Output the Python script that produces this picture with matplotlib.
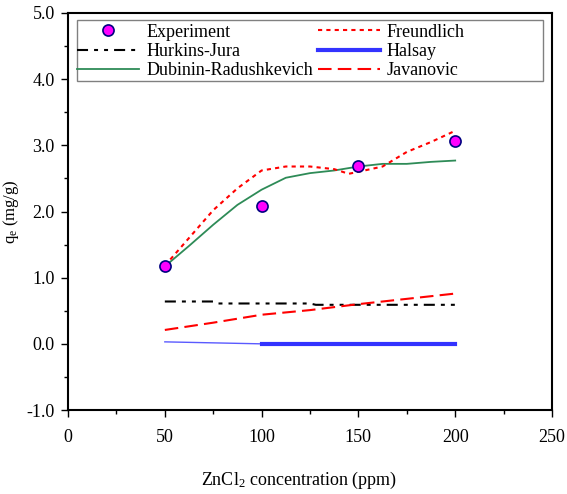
import matplotlib
matplotlib.use("Agg")
import matplotlib.pyplot as plt
from matplotlib.patches import Rectangle
from matplotlib.ticker import MultipleLocator, FormatStrFormatter

plt.rcParams['font.family'] = ['Liberation Serif', 'DejaVu Serif']
plt.rcParams['mathtext.fontset'] = 'custom'
plt.rcParams['mathtext.rm'] = 'Liberation Serif'
plt.rcParams['mathtext.it'] = 'Liberation Serif:italic'
plt.rcParams['mathtext.default'] = 'regular'
plt.rcParams['axes.unicode_minus'] = False

# experimental points
exp_x = [50, 100, 150, 200]
exp_y = [1.18, 2.08, 2.69, 3.06]

# model curves
fr_x = [50, 62.5, 75, 87.5, 100, 112.5, 125, 137.5, 145, 150, 162.5, 175, 187.5, 200]
fr_y = [1.18, 1.60, 2.02, 2.35, 2.62, 2.68, 2.68, 2.64, 2.57, 2.60, 2.68, 2.90, 3.05, 3.22]

dr_x = [50, 62.5, 75, 87.5, 100, 112.5, 125, 137.5, 150, 162.5, 175, 187.5, 200]
dr_y = [1.17, 1.48, 1.80, 2.10, 2.33, 2.51, 2.58, 2.62, 2.68, 2.72, 2.72, 2.75, 2.77]

hj_x = [50, 75, 77, 125, 128, 200]
hj_y = [0.64, 0.64, 0.61, 0.61, 0.59, 0.59]

ha_x = [50, 100]
ha_y = [0.03, 0.0]
ha2_x = [100, 200]
ha2_y = [0.0, 0.0]

jv_x = [50, 75, 100, 125, 150, 175, 200]
jv_y = [0.21, 0.32, 0.44, 0.51, 0.60, 0.68, 0.76]

fig = plt.figure(figsize=(5.67, 4.94), dpi=100)
ax = fig.add_axes([0.12, 0.17, 0.8535, 0.8037])

ax.plot(exp_x, exp_y, 'o', color='#ff00ff', markeredgecolor='#000080',
        markeredgewidth=1.2, markersize=8, label='Experiment', zorder=5)
ax.plot(hj_x, hj_y, color='black', lw=1.5, dashes=(5.3, 2.9, 1.9, 2.9, 1.9, 2.9),
        label='Hurkins-Jura')
ax.plot(dr_x, dr_y, color='#2e8b57', lw=1.3, label='Dubinin-Radushkevich')
ax.plot(fr_x, fr_y, color='red', lw=1.5, dashes=(2, 2), label='Freundlich')
ax.plot(ha_x, ha_y, color='#5a5aff', lw=1.0)
ax.plot(ha2_x, ha2_y, color='#3333ff', lw=3.0, label='Halsay')
ax.plot(jv_x, jv_y, color='red', lw=1.5, dashes=(6.5, 3), label='Javanovic')

ax.set_xlim(0, 250)
ax.set_ylim(-1.0, 5.0)
ax.xaxis.set_major_locator(MultipleLocator(50))
ax.xaxis.set_minor_locator(MultipleLocator(25))
ax.yaxis.set_major_locator(MultipleLocator(1.0))
ax.yaxis.set_minor_locator(MultipleLocator(0.5))
ax.yaxis.set_major_formatter(FormatStrFormatter('%.1f'))
ax.tick_params(which='both', direction='out', labelsize=13, width=1)
ax.tick_params(which='major', length=5)
ax.tick_params(which='minor', length=3)
ax.tick_params(axis='x', pad=9)
ax.tick_params(axis='y', pad=4.5)
for s in ax.spines.values():
    s.set_linewidth(1.5)

ax.set_xlabel('ZnCl$_2$ concentration (ppm)', fontsize=13)
ax.xaxis.set_label_coords(0.477, -0.15)
ax.set_ylabel('q$_e$ (mg/g)', fontsize=12)
ax.yaxis.set_label_coords(-0.097, 0.5)

# legend frame drawn separately (it is wider than the entries)
ax.add_patch(Rectangle((0.0186, 0.8285), 0.9625, 0.1535, transform=ax.transAxes,
                       fill=False, edgecolor='gray', lw=1.0, zorder=4))
leg = ax.legend(ncol=2, loc='upper left', bbox_to_anchor=(0.012, 0.982),
                fontsize=13, frameon=False,
                handlelength=3.4, labelspacing=0.12, columnspacing=0.3,
                borderpad=0.2, handletextpad=0.4, borderaxespad=0.0)

fig.savefig('out.png', dpi=100)
